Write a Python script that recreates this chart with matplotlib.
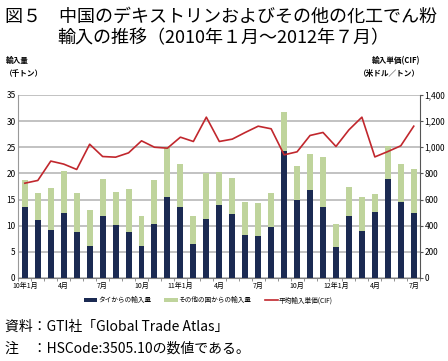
import numpy as np
import matplotlib.pyplot as plt

plt.rcParams['font.family'] = ['Noto Sans CJK JP', 'DejaVu Sans']

months = ['10年1月', '', '', '4月', '', '', '7月', '', '', '10月', '', '',
          '11年1月', '', '', '4月', '', '', '7月', '', '', '10月', '', '',
          '12年1月', '', '', '4月', '', '', '7月']
thai = [13.6, 11.1, 9.2, 12.5, 8.7, 6.2, 11.8, 10.2, 8.7, 6.05, 10.4, 15.4,
        13.6, 6.5, 11.3, 13.9, 12.3, 8.3, 8.0, 9.7, 24.2, 14.95, 16.75, 13.6,
        6.0, 11.9, 8.9, 12.6, 19.0, 14.45, 12.5]
total = [18.7, 16.3, 17.25, 20.4, 16.3, 13.05, 19.0, 16.5, 17.1, 11.9, 18.8, 24.95,
         21.8, 11.8, 20.05, 20.3, 19.2, 14.45, 14.3, 16.2, 31.8, 21.45, 23.75, 23.2,
         10.4, 17.4, 15.5, 16.1, 25.3, 21.8, 20.9]
price = [725, 746, 894, 871, 830, 1023, 929, 924, 957, 1049, 1000, 993,
         1077, 1044, 1230, 1044, 1062, 1113, 1161, 1141, 942, 965, 1090, 1113,
         1006, 1133, 1230, 926, 967, 1011, 1161]
other = [t - h for t, h in zip(total, thai)]

navy = '#1b2a52'
green = '#bfd49c'
red = '#c1272d'

fig = plt.figure(figsize=(4.48, 3.61), dpi=100)
ax = fig.add_axes([0.041, 0.23, 0.897, 0.507])
x = np.arange(len(months))
b1 = ax.bar(x, thai, width=0.46, color=navy, zorder=3)
b2 = ax.bar(x, other, width=0.46, bottom=thai, color=green, zorder=3)
ax.set_xlim(-0.5, len(months) - 0.5)
ax.set_ylim(0, 35)
ax.set_yticks(np.arange(0, 36, 5))
ax.yaxis.grid(True, color='#bdbdbd', lw=1.3, zorder=0)
ax.set_axisbelow(True)
ax.set_xticks(x)
ax.set_xticklabels(months)
ax.set_xticks(np.arange(-0.5, len(months), 1), minor=True)
ax.tick_params(axis='x', which='major', length=0, labelsize=5, pad=3)
ax.tick_params(axis='x', which='minor', length=2, color='#808080')
ax.tick_params(axis='y', length=0, labelsize=6, pad=2)
for s in ['top', 'right']:
    ax.spines[s].set_visible(False)
ax.spines['left'].set_color('#999999')
ax.spines['bottom'].set_color('#808080')

ax2 = ax.twinx()
l1, = ax2.plot(x, price, color=red, lw=1.2, zorder=4)
ax2.set_ylim(0, 1400)
ax2.set_yticks(np.arange(0, 1401, 200))
ax2.set_yticklabels([f'{v:,}' for v in range(0, 1401, 200)])
ax2.tick_params(axis='y', length=2, labelsize=6, pad=1, color='#555555')
for s in ['top', 'left', 'bottom']:
    ax2.spines[s].set_visible(False)
ax2.spines['right'].set_color('#555555')

fig.text(0.012, 0.978, '図５　中国のデキストリンおよびその他の化工でん粉', fontsize=13, va='top')
fig.text(0.127, 0.918, '輸入の推移（2010年１月～2012年７月）', fontsize=13, va='top')
fig.text(0.012, 0.845, '輸入量\n（千トン）', fontsize=5.5, fontweight='bold', va='top', linespacing=1.6)
fig.text(0.938, 0.845, '輸入単価(CIF)\n（米ドル／トン）', fontsize=5.5, fontweight='bold', va='top', ha='right', linespacing=1.6)

fig.legend([b1, b2, l1], ['タイからの輸入量', 'その他の国からの輸入量', '平均輸入単価(CIF)'],
           loc='center', bbox_to_anchor=(0.465, 0.168), ncol=3, frameon=False,
           fontsize=4.8, handlelength=2.0, handleheight=0.6, handletextpad=0.1, columnspacing=2.0)

fig.text(0.012, 0.095, '資料：GTI社「Global Trade Atlas」', fontsize=10, va='center')
fig.text(0.012, 0.033, '注　：HSCode:3505.10の数値である。', fontsize=10, va='center')

fig.savefig('out.png', dpi=100)
